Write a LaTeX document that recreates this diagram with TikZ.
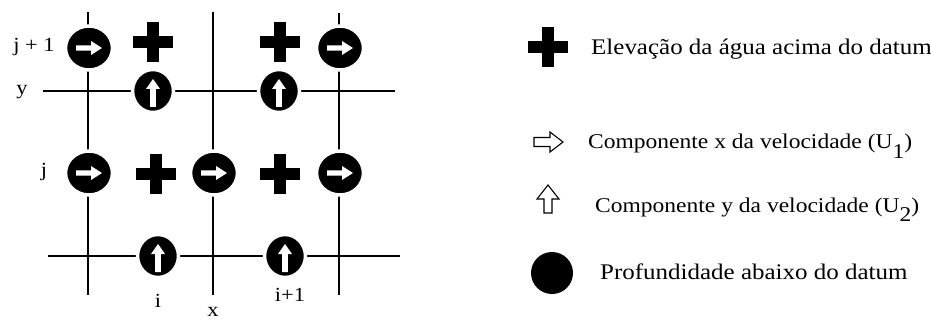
\documentclass[tikz,border=0pt]{standalone}
\usepackage{fontspec}
\setmainfont{Liberation Serif}[FakeStretch=1.12]
\usetikzlibrary{shapes.geometric}
\tikzset{
  gridline/.style={line width=1.4pt, black},
  rcirc/.style={ellipse, fill=black, draw=white, line width=3.5pt, minimum width=47pt, minimum height=44pt, inner sep=0pt},
  ucirc/.style={ellipse, fill=black, draw=white, line width=3.5pt, minimum width=41pt, minimum height=43pt, inner sep=0pt},
  lbl/.style={font=\fontsize{20}{23}\selectfont, inner sep=0pt},
  legtxt/.style={font=\fontsize{22.3}{26}\selectfont, inner sep=0pt, anchor=base west},
  legsmall/.style={legtxt, font=\fontsize{21}{25}\selectfont},
  hollow/.style={draw=black, fill=white, line width=1.1pt, line join=miter},
  pics/rarrow/.style={code={
    \fill[white] (-13,-2.7) -- (2,-2.7) -- (2,-7) -- (13,0) -- (2,7) -- (2,2.7) -- (-13,2.7) -- cycle;}},
  pics/uarrow/.style={code={
    \fill[white] (0,-12) -- (7,-2) -- (2.8,-2) -- (2.8,16) -- (-2.8,16) -- (-2.8,-2) -- (-7,-2) -- cycle;}},
  pics/plus/.style={code={
    \fill[black] (-20,-6) rectangle (20,6);
    \fill[black] (-6,-20) rectangle (6,20);}}
}
\begin{document}
\begin{tikzpicture}[x=1pt,y=-1pt]
\useasboundingbox (0,0) rectangle (931,323);
% grid end points
\coordinate (v1t) at (88,12);  \coordinate (v1b) at (88,295);
\coordinate (v2t) at (213,12); \coordinate (v2b) at (213,295);
\coordinate (v3t) at (339,13); \coordinate (v3b) at (339,295);
\coordinate (h1l) at (43,91);  \coordinate (h1r) at (395,91);
\coordinate (h2l) at (48,256); \coordinate (h2r) at (400,256);
\draw[gridline] (v1t) -- (v1b);
\draw[gridline] (v2t) -- (v2b);
\draw[gridline] (v3t) -- (v3b);
\draw[gridline] (h1l) -- (h1r);
\draw[gridline] (h2l) -- (h2r);
% U1 points
\node[rcirc] (r1) at (89,48) {};  \pic at (r1.center) {rarrow};
\node[rcirc] (r2) at (340,48) {}; \pic at (r2.center) {rarrow};
\node[rcirc] (r3) at (89,173) {}; \pic at (r3.center) {rarrow};
\node[rcirc] (r4) at (214,173) {}; \pic at (r4.center) {rarrow};
\node[rcirc] (r5) at (340,173) {}; \pic at (r5.center) {rarrow};
% U2 points
\node[ucirc] (u1) at (153,91) {}; \pic at (u1.center) {uarrow};
\node[ucirc] (u2) at (279,91) {}; \pic at (u2.center) {uarrow};
\node[ucirc] (u3) at (158,256) {}; \pic at (u3.center) {uarrow};
\node[ucirc] (u4) at (285,256) {}; \pic at (u4.center) {uarrow};
% elevation points
\coordinate (e1) at (153,42); \pic at (e1) {plus};
\coordinate (e2) at (280,42); \pic at (e2) {plus};
\coordinate (e3) at (156,174); \pic at (e3) {plus};
\coordinate (e4) at (280,174); \pic at (e4) {plus};
% labels
\node[lbl] (lj1) at (34,47) {j + 1};
\node[lbl] (ly) at (22,92) {y};
\node[lbl] (lj) at (44,172) {j};
\node[lbl] (li) at (158,301) {i};
\node[lbl] (lx) at (213,312) {x};
\node[lbl] (li1) at (290,295) {i+1};
% legend
\coordinate (k1) at (548,47); \pic at (k1) {plus};
\draw[hollow] (534,137.5) -- (550,137.5) -- (550,132) -- (563,142) -- (550,152) -- (550,146.5) -- (534,146.5) -- cycle;
\draw[hollow] (548,185) -- (559,199) -- (552,199) -- (552,213) -- (544,213) -- (544,199) -- (537,199) -- cycle;
\node[circle, fill=black, minimum size=42pt, inner sep=0pt] (k4) at (552,273) {};
\node[legtxt] (t1) at (591,55) {Elevação da água acima do datum};
\node[legsmall] (t2) at (588,149) {Componente x da velocidade (U\raisebox{-0.45em}{1})};
\node[legsmall] (t3) at (595,212) {Componente y da velocidade (U\raisebox{-0.45em}{2})};
\node[legtxt] (t4) at (600,279) {Profundidade abaixo do datum};
\end{tikzpicture}
\end{document}
